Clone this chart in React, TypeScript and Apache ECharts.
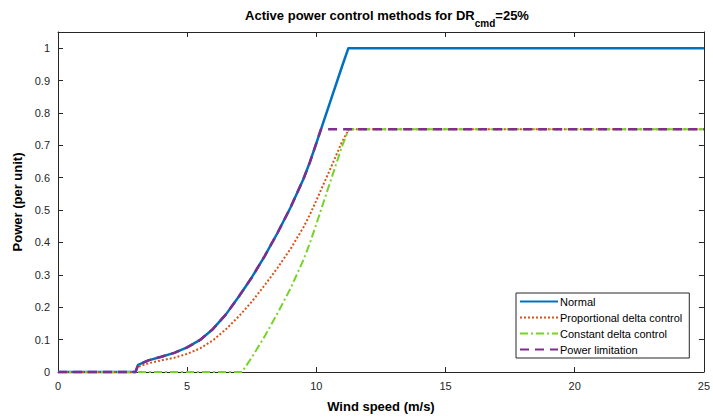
import React, { useEffect, useRef } from "react";
import * as echarts from "echarts";

// Wind speed (m/s) and power (per unit)
const normalX = [0, 3, 3.1, 3.5, 4, 4.5, 5, 5.5, 6, 6.5, 7, 7.5, 8, 8.5, 9, 9.5, 9.75, 10, 10.5, 11, 11.24, 25];
const normalY = [0, 0, 0.022, 0.036, 0.047, 0.059, 0.076, 0.099, 0.133, 0.178, 0.233, 0.292, 0.358, 0.43, 0.508, 0.596, 0.648, 0.707, 0.826, 0.945, 1.0, 1.0];

const propX = [0, 3, 3.1, 3.5, 4, 4.5, 5, 5.5, 6, 6.5, 7, 7.5, 8, 8.5, 9, 9.5, 9.75, 10, 10.5, 11, 11.26, 25];
const propY = [0, 0, 0.016, 0.027, 0.036, 0.044, 0.056, 0.073, 0.098, 0.132, 0.172, 0.217, 0.268, 0.322, 0.38, 0.447, 0.486, 0.53, 0.62, 0.712, 0.75, 0.75];

const constX = [0, 7.12, 7.5, 8, 8.5, 9, 9.5, 9.75, 10, 10.5, 11, 11.26, 25];
const constY = [0, 0, 0.045, 0.11, 0.182, 0.258, 0.346, 0.398, 0.457, 0.578, 0.698, 0.75, 0.75];

const limitX = [0, 3, 3.1, 3.5, 4, 4.5, 5, 5.5, 6, 6.5, 7, 7.5, 8, 8.5, 9, 9.5, 9.75, 10, 10.18, 25];
const limitY = [0, 0, 0.022, 0.036, 0.047, 0.059, 0.076, 0.099, 0.133, 0.178, 0.233, 0.292, 0.358, 0.43, 0.508, 0.596, 0.648, 0.707, 0.75, 0.75];

const seriesNames = ["Normal", "Proportional delta control", "Constant delta control", "Power limitation"];

const FONT = "Liberation Sans, Arial, Helvetica, sans-serif";
const AX = "#262626";

const zip = (xs: number[], ys: number[]) => xs.map((x, i) => [x, ys[i]]);

export default function App() {
  const ref = useRef<HTMLDivElement>(null);
  useEffect(() => {
    document.body.style.margin = "0";
    const chart = echarts.init(ref.current!, undefined, { renderer: "svg" });
    const baseAxis = {
      type: "value" as const,
      axisLine: { show: true, onZero: false, lineStyle: { color: AX, width: 1 } },
      axisTick: { show: true, inside: true, length: 5, lineStyle: { color: AX } },
      splitLine: { show: false },
    };
    const lineBase = {
      type: "line" as const,
      showSymbol: false,
      symbol: "none",
      clip: false,
      smooth: false,
    };
    chart.setOption({
      animation: false,
      backgroundColor: "#fff",
      textStyle: { fontFamily: FONT },
      grid: { left: 58, right: 3, top: 32, bottom: 47, containLabel: false },
      graphic: [
        {
          type: "text",
          x: 387,
          y: 9,
          z: 10,
          style: {
            text: "{a|Active power control methods for DR}{b|cmd}{a|=25%}",
            align: "center",
            verticalAlign: "top",
            rich: {
              a: { fontSize: 13, fontWeight: "bold", fontFamily: FONT, fill: "#000", lineHeight: 16, verticalAlign: "top" },
              b: { fontSize: 10, fontWeight: "bold", fontFamily: FONT, fill: "#000", lineHeight: 12, padding: [9, 0, 0, 0], verticalAlign: "top" },
            },
          },
        },
      ],
      xAxis: [
        {
          ...baseAxis,
          min: 0,
          max: 25,
          interval: 5,
          position: "bottom",
          axisLabel: { show: true, fontSize: 11, color: AX, margin: 8, fontFamily: FONT },
          name: "Wind speed (m/s)",
          nameLocation: "middle",
          nameGap: 28,
          nameTextStyle: { fontSize: 13, fontWeight: "bold", color: "#000", fontFamily: FONT },
        },
        {
          ...baseAxis,
          min: 0,
          max: 25,
          interval: 5,
          position: "top",
          axisLabel: { show: false },
        },
      ],
      yAxis: [
        {
          ...baseAxis,
          min: 0,
          max: 1.05,
          interval: 0.1,
          position: "left",
          axisLabel: {
            show: true,
            fontSize: 11,
            color: AX,
            margin: 8,
            fontFamily: FONT,
            showMaxLabel: false,
            formatter: (v: number) => (v > 1.001 ? "" : String(parseFloat(v.toFixed(1)))),
          },
          name: "Power (per unit)",
          nameLocation: "middle",
          nameGap: 29,
          nameTextStyle: { fontSize: 13, fontWeight: "bold", color: "#000", fontFamily: FONT },
        },
        {
          ...baseAxis,
          min: 0,
          max: 1.05,
          interval: 0.1,
          position: "right",
          axisLabel: { show: false },
        },
      ],
      legend: {
        orient: "vertical",
        left: 516,
        top: 293,
        itemWidth: 38,
        itemHeight: 12,
        itemGap: 5,
        padding: [3, 7, 3, 3],
        borderColor: AX,
        borderWidth: 1,
        borderRadius: 0,
        backgroundColor: "#fff",
        itemStyle: { opacity: 0 },
        textStyle: { fontSize: 11, color: "#000", fontFamily: FONT, padding: [0, 0, 0, -3] },
        data: seriesNames,
      },
      series: [
        {
          ...lineBase,
          name: seriesNames[0],
          data: zip(normalX, normalY),
          color: "#0072BD",
          lineStyle: { color: "#0072BD", width: 2.5, join: "round" },
          z: 2,
        },
        {
          ...lineBase,
          name: seriesNames[1],
          data: zip(propX, propY),
          color: "#D95319",
          lineStyle: { color: "#D95319", width: 2, type: [2, 2] },
          z: 3,
        },
        {
          ...lineBase,
          name: seriesNames[2],
          data: zip(constX, constY),
          color: "#77D32A",
          lineStyle: { color: "#77D32A", width: 2, type: [8, 3, 2, 3] },
          z: 4,
        },
        {
          ...lineBase,
          name: seriesNames[3],
          data: zip(limitX, limitY),
          color: "#7E2F8E",
          lineStyle: { color: "#7E2F8E", width: 2.5, type: [9, 6] },
          z: 5,
        },
      ],
    });
    return () => chart.dispose();
  }, []);
  return <div ref={ref} style={{ width: 713, height: 419 }} />;
}
